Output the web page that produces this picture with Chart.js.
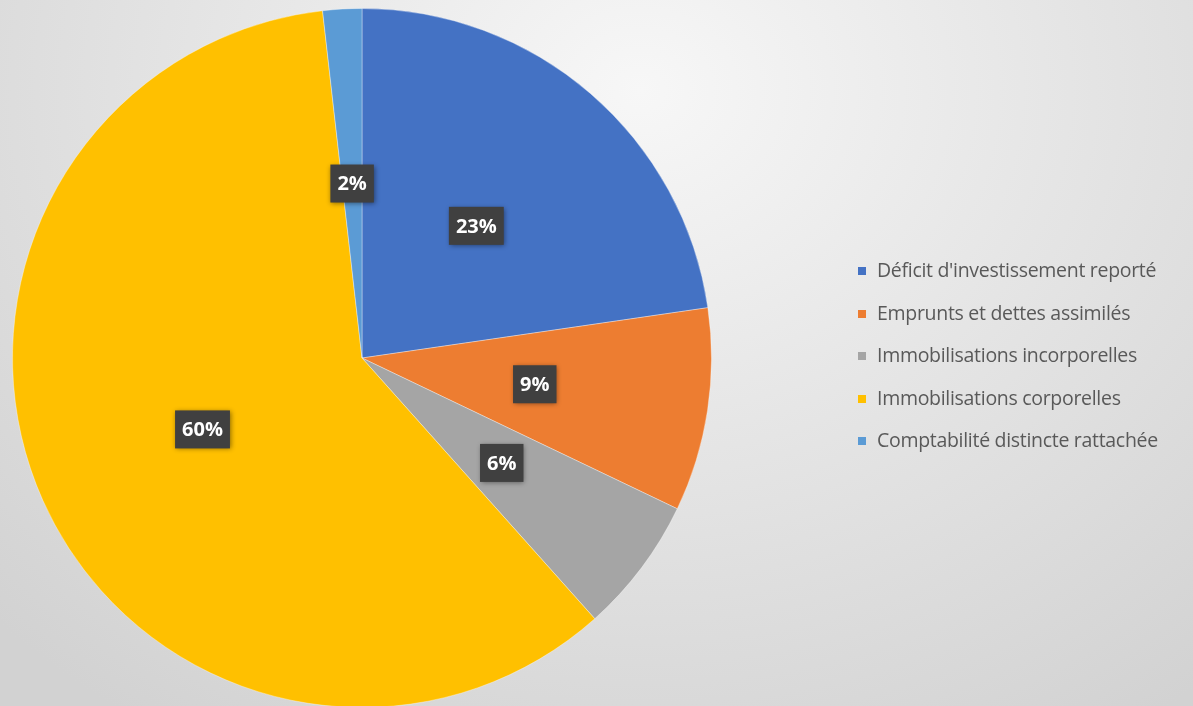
<!DOCTYPE html>
<html>
<head>
<meta charset="utf-8">
<script src="https://cdn.jsdelivr.net/npm/chart.js@4.4.0/dist/chart.umd.min.js"></script>
<style>
  html, body { margin: 0; padding: 0; }
  body {
    width: 1193px; height: 706px; overflow: hidden; position: relative;
    background: radial-gradient(ellipse 900px 760px at 640px 90px, #f7f7f7 0%, #e6e6e6 45%, #d2d2d2 100%);
  }
  #wrap { position: absolute; left: 0; top: 0; width: 1193px; height: 712px; }
  #legend { position: absolute; left: 858px; top: 256px; font-family: "Open Sans", sans-serif; font-size: 19.5px; letter-spacing: -0.3px; color: #595959; }
  #legend div { height: 42.5px; line-height: 28px; white-space: nowrap; }
  #legend span.sw { display: inline-block; width: 8px; height: 8px; margin-right: 11px; vertical-align: 2px; }
</style>
</head>
<body>
<div id="wrap"><canvas id="pie"></canvas></div>
<div id="legend"></div>
<script>
const labels = [
  "Déficit d'investissement reporté",
  'Emprunts et dettes assimilés',
  'Immobilisations incorporelles',
  'Immobilisations corporelles',
  'Comptabilité distincte rattachée'
];
const values = [22.7, 9.4, 6.3, 59.8, 1.8];
const colors = ['#4472C4', '#ED7D31', '#A5A5A5', '#FFC000', '#5B9BD5'];

// dark boxes with the rounded percentages
const pctLabels = {
  id: 'pctLabels',
  afterDatasetsDraw(chart) {
    const ctx = chart.ctx;
    const meta = chart.getDatasetMeta(0);
    const total = values.reduce((a, b) => a + b, 0);
    ctx.save();
    ctx.font = 'bold 20px "Open Sans", sans-serif';
    ctx.textAlign = 'center';
    ctx.textBaseline = 'middle';
    meta.data.forEach((arc, i) => {
      const p = arc.getProps(['x', 'y', 'startAngle', 'endAngle', 'outerRadius'], true);
      const mid = (p.startAngle + p.endAngle) / 2;
      const r = p.outerRadius * 0.5;
      const x = p.x + Math.cos(mid) * r;
      const y = p.y + Math.sin(mid) * r;
      const txt = Math.round(values[i] / total * 100) + '%';
      const w = ctx.measureText(txt).width + 14;
      const h = 38;
      ctx.shadowColor = 'rgba(0,0,0,0.45)';
      ctx.shadowBlur = 5;
      ctx.shadowOffsetX = 1;
      ctx.shadowOffsetY = 1;
      ctx.fillStyle = '#404040';
      ctx.fillRect(x - w / 2, y - h / 2, w, h);
      ctx.shadowColor = 'transparent';
      ctx.fillStyle = '#ffffff';
      ctx.fillText(txt, x, y + 1);
    });
    ctx.restore();
  }
};

const chart = new Chart(document.getElementById('pie'), {
  type: 'pie',
  data: {
    labels: labels,
    datasets: [{
      data: values,
      backgroundColor: colors,
      borderColor: 'rgba(255,255,255,0.35)',
      borderWidth: 1
    }]
  },
  options: {
    responsive: true,
    maintainAspectRatio: false,
    animation: false,
    layout: { padding: { left: 12, right: 481, top: 8, bottom: 4 } },
    plugins: {
      legend: { display: false },
      tooltip: { enabled: false }
    }
  },
  plugins: [pctLabels]
});

// legend on the right
const legendEl = document.getElementById('legend');
labels.forEach((l, i) => {
  const row = document.createElement('div');
  row.innerHTML = '<span class="sw" style="background:' + colors[i] + '"></span>' + l;
  legendEl.appendChild(row);
});
</script>
</body>
</html>
